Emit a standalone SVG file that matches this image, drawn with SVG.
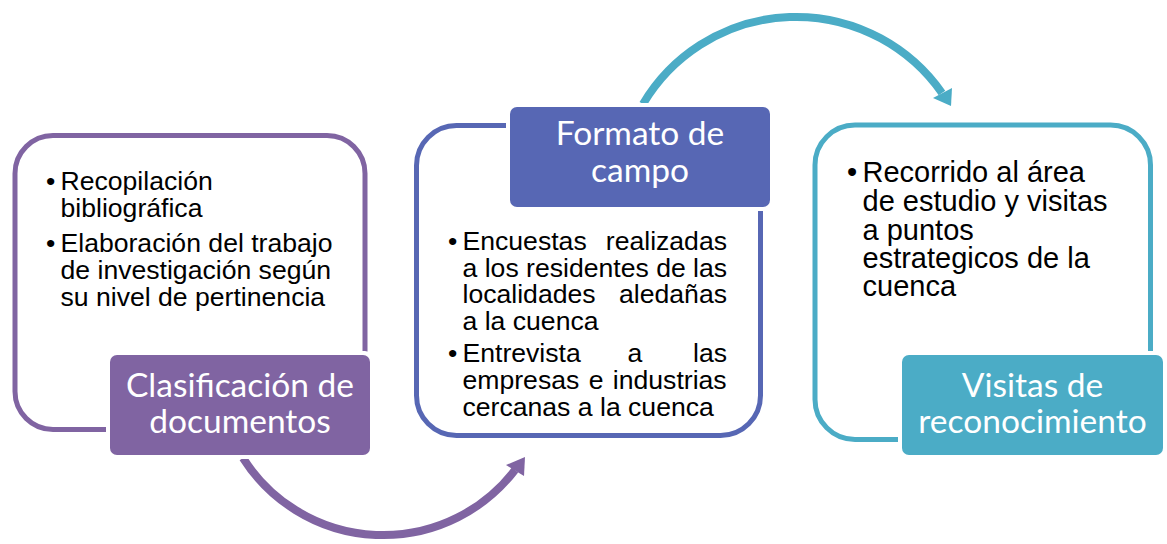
<svg xmlns="http://www.w3.org/2000/svg" width="1167" height="544" viewBox="0 0 1167 544">
<style>
.body{font-family:"Liberation Sans",Arial,sans-serif;font-size:26.6px;fill:#000}
.b3{font-size:29px}
.end{text-anchor:end}
.mid{text-anchor:middle}
.lbl{font-family:Lato,"Open Sans",sans-serif;font-size:33.5px;fill:#fff;text-anchor:middle}
.outline{fill:#fff;stroke-width:5}
.gap{fill:#fff}
.arc{fill:none;stroke-width:8}
</style>
<rect width="1167" height="544" fill="#fff"/>
<g id="connectors">
  <path class="arc" d="M243,458 A166,166 0 0 0 515,470" stroke="#8064A2"/>
  <polygon points="506,465 525,457 524,476" fill="#8064A2"/>
  <path class="arc" d="M643,104 A178,178 0 0 1 942,93" stroke="#4BACC6"/>
  <polygon points="933,98 952,88 951,106" fill="#4BACC6"/>
</g>
<g id="node1">
  <rect class="outline" x="15" y="135.5" width="350" height="294" rx="38" stroke="#8064A2"/>
  <text class="body" x="46" y="190">•</text>
  <text class="body" x="60.5" y="190">Recopilación</text>
  <text class="body" x="60.5" y="217">bibliográfica</text>
  <text class="body" x="46" y="252">•</text>
  <text class="body" x="60.5" y="252">Elaboración del trabajo</text>
  <text class="body" x="60.5" y="279">de investigación según</text>
  <text class="body" x="60.5" y="306">su nivel de pertinencia</text>
  <rect class="gap" x="106" y="351" width="268" height="108" rx="9"/>
  <rect x="110" y="355" width="260" height="100" rx="7" fill="#8064A2"/>
  <text class="lbl" x="240" y="397">Clasificación de</text>
  <text class="lbl" x="240" y="433">documentos</text>
</g>
<g id="node2">
  <rect class="outline" x="416.5" y="125.5" width="344" height="310" rx="40" stroke="#5767B4"/>
  <rect class="gap" x="506" y="103" width="268" height="108" rx="9"/>
  <rect x="510" y="107" width="260" height="100" rx="7" fill="#5767B4"/>
  <text class="lbl" x="640" y="145">Formato de</text>
  <text class="lbl" x="640" y="182">campo</text>
  <text class="body" x="448" y="250">•</text>
  <text class="body" x="462.5" y="250">Encuestas</text>
  <text class="body end" x="727" y="250">realizadas</text>
  <text class="body" x="462.5" y="277">a los residentes de las</text>
  <text class="body" x="462.5" y="303">localidades</text>
  <text class="body end" x="727" y="303">aledañas</text>
  <text class="body" x="462.5" y="330">a la cuenca</text>
  <text class="body" x="448" y="362">•</text>
  <text class="body" x="462.5" y="362">Entrevista</text>
  <text class="body mid" x="635" y="362">a</text>
  <text class="body end" x="727" y="362">las</text>
  <text class="body" x="462.5" y="389" word-spacing="2">empresas e industrias</text>
  <text class="body" x="462.5" y="416">cercanas a la cuenca</text>
</g>
<g id="node3">
  <rect class="outline" x="815" y="125" width="335.5" height="314.5" rx="40" stroke="#4BACC6"/>
  <text class="body b3" x="847" y="182">•</text>
  <text class="body b3" x="862.5" y="182">Recorrido al área</text>
  <text class="body b3" x="862.5" y="211">de estudio y visitas</text>
  <text class="body b3" x="862.5" y="240">a puntos</text>
  <text class="body b3" x="862.5" y="268">estrategicos de la</text>
  <text class="body b3" x="862.5" y="296">cuenca</text>
  <rect class="gap" x="898" y="351" width="269" height="108" rx="9"/>
  <rect x="902" y="355" width="261" height="100" rx="7" fill="#4BACC6"/>
  <text class="lbl" x="1032.5" y="397">Visitas de</text>
  <text class="lbl" x="1032.5" y="433">reconocimiento</text>
</g>
</svg>
